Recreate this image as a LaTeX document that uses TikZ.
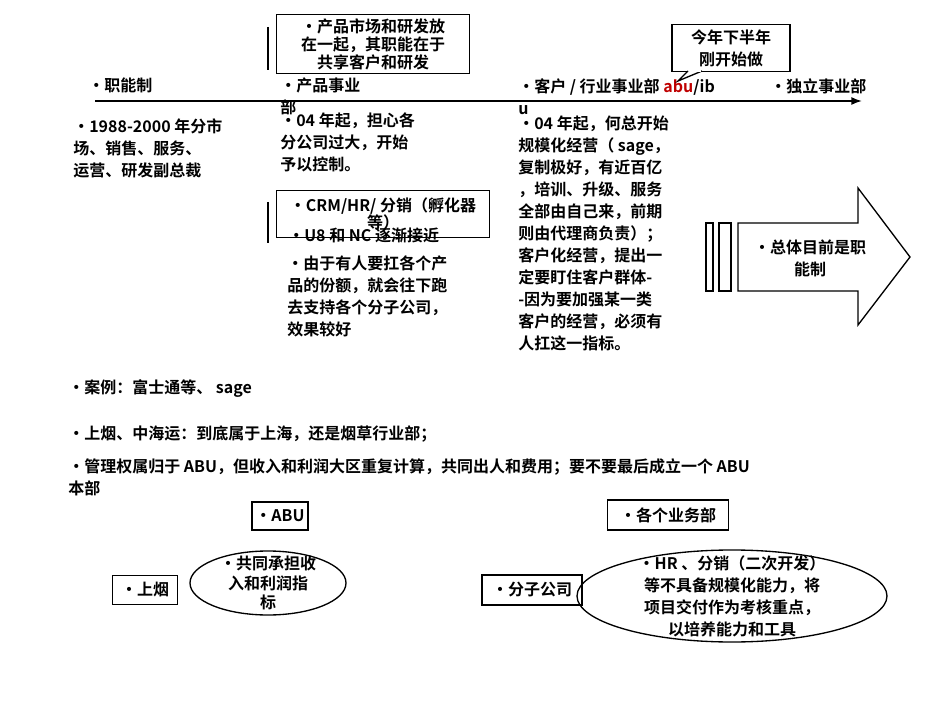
\documentclass[tikz,border=0pt]{standalone}
\usepackage{fontspec}
\setmainfont{Noto Sans CJK SC}[BoldFont=* Bold]
\usetikzlibrary{arrows.meta,positioning,shapes.geometric}
\begin{document}
\begin{tikzpicture}[
        x=0.75pt, y=-0.75pt,
        every node/.style={font=\fontsize{12}{16.5}\selectfont\bfseries, inner sep=0pt},
        txt/.style={anchor=north west, align=left},
        ctxt/.style={align=center},
        box/.style={draw, line width=1pt, align=center},
        oval/.style={draw, line width=1pt, ellipse, align=center},
        bar/.style={line width=1.2pt}
    ]
    \useasboundingbox (0,0) rectangle (950,713);

    % time line
    \coordinate (start) at (95,101);
    \coordinate (stop) at (862,101);
    \draw[-{Latex[length=8pt]}, line width=1.2pt] (start) -- (stop);

    % stages
    \node[txt] (func) at (88,78) {•职能制};
    \node[txt] (prod) at (280,78) {•产品事业\\部};
    \node[txt] (cust) at (518,78) {•客户 / 行业事业部 \textcolor{red!75!black}{abu}/ib\\u};
    \node[txt] (indep) at (770,78) {•独立事业部};

    % note boxes
    \node[box, minimum width=193*0.75pt, minimum height=59*0.75pt, font=\fontsize{12}{13.5}\selectfont\bfseries] (rd) at (373,44) {•产品市场和研发放\\在一起，其职能在于\\共享客户和研发};
    \draw[bar] (268,27) -- (268,70);
    \node[box, minimum width=118*0.75pt, minimum height=47*0.75pt] (late) at (731,48) {今年下半年\\刚开始做};
    \draw[line width=1pt, fill=white] (688,71) -- (678,81) -- (702,71);
    \draw[white, line width=1.3pt] (689.5,71) -- (700.5,71);

    % details
    \node[txt] (funcdet) at (73,118) {•1988-2000 年分市\\场、销售、服务、\\运营、研发副总裁};
    \node[txt] (proddet) at (280,112) {•04 年起，担心各\\分公司过大，开始\\予以控制。};
    \node[box, minimum width=213*0.75pt, minimum height=47*0.75pt, font=\fontsize{12}{12.5}\selectfont\bfseries] (crm) at (383,214) {•CRM/HR/ 分销（孵化器\\等）};
    \draw[bar] (268,202) -- (268,243);
    \node[txt] (u8) at (288,228) {•U8 和 NC 逐渐接近};
    \node[txt] (share) at (287,255) {•由于有人要扛各个产\\品的份额，就会往下跑\\去支持各个分子公司，\\效果较好};
    \node[txt] (custdet) at (518,116) {•04 年起，何总开始\\规模化经营（ sage，\\复制极好，有近百亿\\，培训、升级、服务\\全部由自己来，前期\\则由代理商负责）；\\客户化经营，提出一\\定要盯住客户群体-\\-因为要加强某一类\\客户的经营，必须有\\人扛这一指标。};

    % big arrow
    \draw[line width=1pt] (706,223) rectangle (713,291);
    \draw[line width=1pt] (719,223) rectangle (731,291);
    \draw[line width=1pt] (738,223) -- (858,223) -- (858,188) -- (910,257) -- (858,325) -- (858,291) -- (738,291) -- cycle;
    \node[ctxt] (now) at (810,258) {•总体目前是职\\能制};

    % cases
    \node[txt] (case) at (68,379) {•案例：富士通等、 sage};
    \node[txt] (sh) at (68,426) {•上烟、中海运：到底属于上海，还是烟草行业部；};
    \node[txt] (abunote) at (68,458) {•管理权属归于 ABU，但收入和利润大区重复计算，共同出人和费用；要不要最后成立一个 ABU\\本部};

    % lower left
    \node[box, minimum width=56*0.75pt, minimum height=28*0.75pt] (abu) at (280,516) {•ABU};
    \node[box, minimum width=65*0.75pt, minimum height=29*0.75pt] (shyan) at (145,590) {•上烟};
    \node[oval, minimum width=156*0.75pt, minimum height=64*0.75pt] (joint) at (268,583) {};
    \node[ctxt, font=\fontsize{12}{14.5}\selectfont\bfseries] at (joint) {•共同承担收\\入和利润指\\标};

    % lower right
    \node[box, minimum width=121*0.75pt, minimum height=30*0.75pt] (units) at (668,515) {•各个业务部};
    \node[box, minimum width=100*0.75pt, minimum height=30*0.75pt] (sub) at (532,590) {•分子公司};
    \node[oval, minimum width=310*0.75pt, minimum height=92*0.75pt] (hr) at (732,596) {};
    \node[ctxt] at (hr) {•HR 、分销（二次开发）\\等不具备规模化能力，将\\项目交付作为考核重点，\\以培养能力和工具};
\end{tikzpicture}
\end{document}
